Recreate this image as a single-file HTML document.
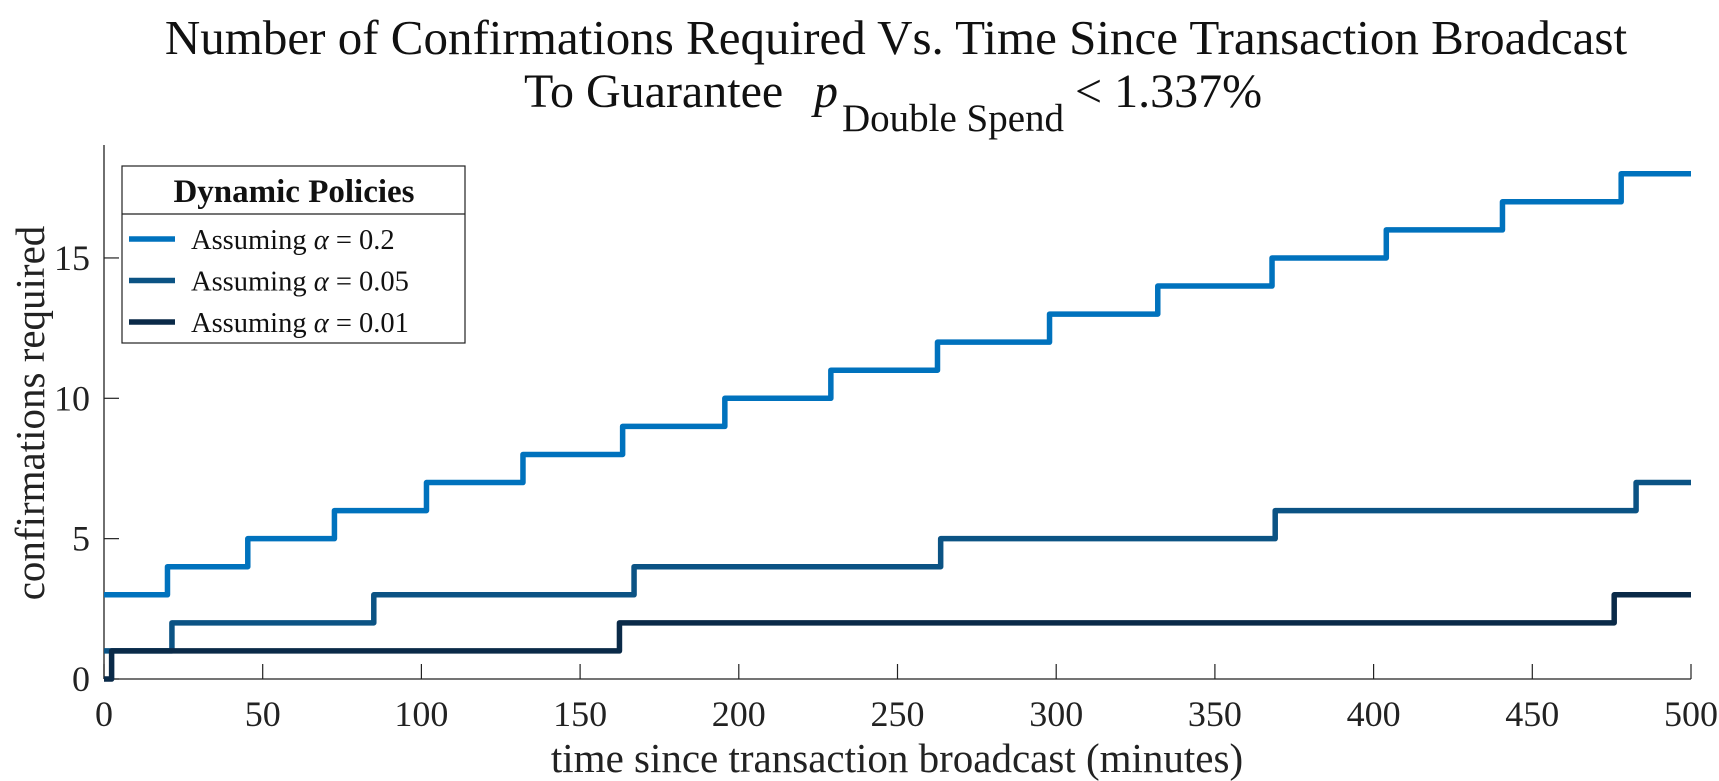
<!DOCTYPE html>
<html><head><meta charset="utf-8"><style>
html,body{margin:0;padding:0;background:#fff;}
svg{display:block;font-family:"Liberation Serif",serif;}
</style></head><body>
<svg id="chart" width="1719" height="781" viewBox="0 0 1719 781" xmlns="http://www.w3.org/2000/svg">
<text x="896" y="54" font-size="49" text-anchor="middle" fill="#111">Number of Confirmations Required Vs. Time Since Transaction Broadcast</text>
<text y="107" font-size="48" fill="#111"><tspan x="524">To Guarantee</tspan><tspan x="814" font-style="italic">p</tspan><tspan x="842" y="131" font-size="39">Double Spend</tspan><tspan x="1075" y="107">&lt; 1.337%</tspan></text>
<g id="axes"></g>
<g id="series"></g>
<text x="897" y="772" font-size="41" text-anchor="middle" fill="#222">time since transaction broadcast (minutes)</text>
<text transform="translate(44,413) rotate(-90)" font-size="41" text-anchor="middle" fill="#222">confirmations required</text>
<g>
<rect x="122" y="166" width="343" height="177" fill="#fff" stroke="#222" stroke-width="1.2"/>
<line x1="122" y1="214" x2="465" y2="214" stroke="#222" stroke-width="1.2"/>
<text x="294" y="202" font-size="33" font-weight="bold" text-anchor="middle" fill="#111">Dynamic Policies</text>
<g id="legendEntries"></g>
</g>
</svg>
<script>
const xTicks=[0,50,100,150,200,250,300,350,400,450,500];
const yTicks=[0,5,10,15];
const seriesNames=["0.2","0.05","0.01"];
const seriesColors=["#0072bd","#0b5384","#0a2a48"];
const s1Times=[0,20,45.3,72.6,101.6,132,163.4,195.6,229,262.6,297.9,332,368,404,440.6,478,500];
const s1Values=[3,4,5,6,7,8,9,10,11,12,13,14,15,16,17,18,18];
const s2Times=[0,21.4,85,167,263.6,369,482.7,500];
const s2Values=[1,2,3,4,5,6,7,7];
const s3Times=[0,2.4,162.4,475.8,500];
const s3Values=[0,1,2,3,3];
const ns="http://www.w3.org/2000/svg";
const X0=104,X1=1691,Y0=679,YPU=28.07,YTOP=145;
function xs(v){return X0+(v-0)/(500-0)*(X1-X0);}
function ys(v){return Y0-v*YPU;}
function mk(t,a,p){const e=document.createElementNS(ns,t);for(const k in a)e.setAttribute(k,a[k]);(p||document.getElementById('chart')).appendChild(e);return e;}
const ax=document.getElementById('axes');
let l=mk('line',{x1:X0,y1:Y0,x2:X1,y2:Y0,stroke:'#222','stroke-width':1.3},ax);


l=mk('line',{x1:X0,y1:Y0,x2:X0,y2:YTOP,stroke:'#222','stroke-width':1.3},ax);


xTicks.forEach(t=>{
 const tk=mk('line',{x1:xs(t),y1:Y0,x2:xs(t),y2:Y0-15,stroke:'#222','stroke-width':1.2},ax);
 
 
 const tx=mk('text',{x:xs(t),y:726,'font-size':36,'text-anchor':'middle',fill:'#222'},ax);
 tx.textContent=t;
 
 
});
yTicks.forEach(t=>{
 const tk=mk('line',{x1:X0,y1:ys(t),x2:X0+15,y2:ys(t),stroke:'#222','stroke-width':1.2},ax);
 
 
 const tx=mk('text',{x:90,y:ys(t)+12,'font-size':36,'text-anchor':'end',fill:'#222'},ax);
 tx.textContent=t;
 
 
});
const sg=document.getElementById('series');
[[s1Times,s1Values],[s2Times,s2Values],[s3Times,s3Values]].forEach((s,i)=>{
 const [T,V]=s;let d='M'+xs(T[0])+','+ys(V[0]);
 for(let k=1;k<T.length;k++){d+=' H'+xs(T[k])+' V'+ys(V[k]);}
 const p=mk('path',{d:d,fill:'none',stroke:seriesColors[i],'stroke-width':5.5,'stroke-linejoin':'round'},sg);
 
 
});
const lg=document.getElementById('legendEntries');
seriesNames.forEach((n,i)=>{
 const y=239+i*41.5;
 const ln=mk('line',{x1:129,y1:y,x2:175,y2:y,stroke:seriesColors[i],'stroke-width':5.5},lg);
 
 
 const tx=mk('text',{x:191,y:y+10,'font-size':28.5,fill:'#111'},lg);
 tx.innerHTML='Assuming <tspan font-style="italic">α</tspan> = '+n;
 
 
});
</script>
</body></html>
